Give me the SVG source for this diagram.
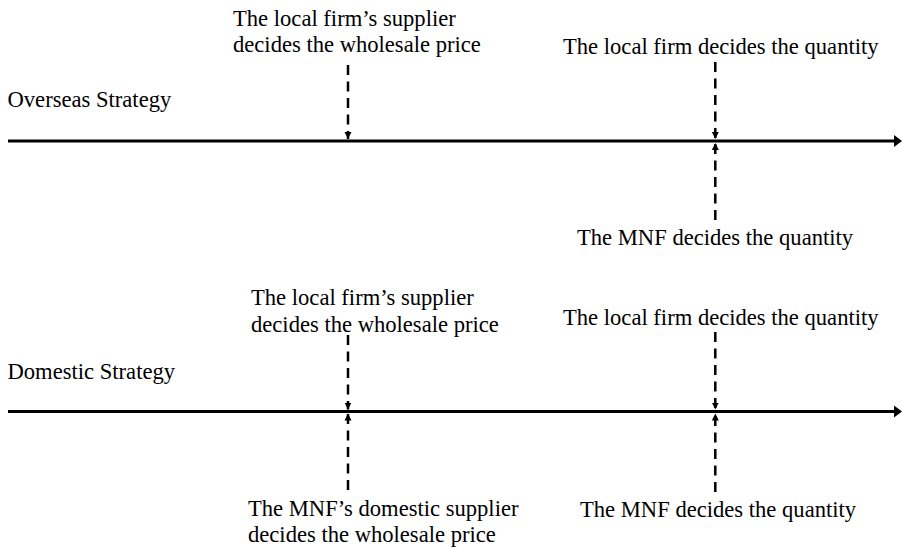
<svg xmlns="http://www.w3.org/2000/svg" width="902" height="549" viewBox="0 0 902 549">
<style>
text{font-family:"Liberation Serif","Times New Roman",serif;font-size:22.6px;fill:#000}
.tl{stroke:#000;stroke-width:3;fill:none}
.ds{stroke:#000;stroke-width:2.5;stroke-dasharray:10 6.5;fill:none}
.ah{fill:#000;stroke:none}
</style>
<defs>
<marker id="sm" markerUnits="userSpaceOnUse" markerWidth="10" markerHeight="10" refX="7" refY="4" orient="auto">
<path d="M0,0.5 L7,4 L0,7.5 Z" fill="#000" stroke="none"/>
</marker>
</defs>
<rect width="902" height="549" fill="#fff"/>

<g id="timelines">
<g id="overseas-line">
<line class="tl" x1="8" y1="141" x2="896" y2="141"/>
<path class="ah" d="M894,135 L902,141 L894,147 Z"/>
</g>
<g id="domestic-line">
<line class="tl" x1="8" y1="411.5" x2="896" y2="411.5"/>
<path class="ah" d="M894,405.5 L902,411.5 L894,417.5 Z"/>
</g>
</g>

<g id="labels">
<g id="overseas-label"><text x="7.5" y="107">Overseas Strategy</text></g>
<g id="domestic-label"><text x="7.5" y="378.5">Domestic Strategy</text></g>
</g>

<g id="n1"><text x="233" y="25.7">The local firm’s supplier</text><text x="233" y="52">decides the wholesale price</text></g>
<g id="n2"><text x="563" y="54">The local firm decides the quantity</text></g>
<g id="n3"><text x="577" y="245">The MNF decides the quantity</text></g>
<g id="n4"><text x="251" y="305">The local firm’s supplier</text><text x="251" y="331.7">decides the wholesale price</text></g>
<g id="n5"><text x="563" y="325">The local firm decides the quantity</text></g>
<g id="n6"><text x="248" y="516">The MNF’s domestic supplier</text><text x="248" y="542">decides the wholesale price</text></g>
<g id="n7"><text x="580" y="517">The MNF decides the quantity</text></g>

<g id="connectors">
<path class="ds" d="M348,65 L348,139" marker-end="url(#sm)"/>
<path class="ds" d="M715.3,62 L715.3,139" marker-end="url(#sm)"/>
<path class="ds" d="M715.3,220 L715.3,143" marker-end="url(#sm)"/>
<path class="ds" d="M348,335 L348,409.5" marker-end="url(#sm)"/>
<path class="ds" d="M348,490 L348,413.5" marker-end="url(#sm)"/>
<path class="ds" d="M715.3,332 L715.3,409.5" marker-end="url(#sm)"/>
<path class="ds" d="M715.3,492 L715.3,413.5" marker-end="url(#sm)"/>
</g>
</svg>
